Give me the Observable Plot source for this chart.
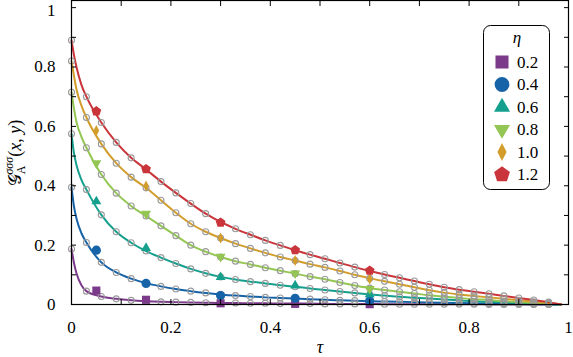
<!DOCTYPE html>
<html><head><meta charset="utf-8">
<script src="https://cdn.jsdelivr.net/npm/d3@7"></script>
<script src="https://cdn.jsdelivr.net/npm/@observablehq/plot@0.6"></script>
<style>body{margin:0;background:#fff} #chart{width:573px;height:357px}</style>
</head><body><div id="chart"></div>
<script>
// ---- data ----
const etaLabels = ["0.2", "0.4", "0.6", "0.8", "1.0", "1.2"];
const colors = ["#7b3b8a", "#1763a8", "#15a08e", "#93c652", "#d29d2b", "#c9353a"];
const xTicksMajor = [0, 0.2, 0.4, 0.6, 0.8, 1];
const xTicksMinor = [0, 0.1, 0.2, 0.3, 0.4, 0.5, 0.6, 0.7, 0.8, 0.9, 1];
const yTicksMajor = [0, 0.2, 0.4, 0.6, 0.8];
const yTickTop = [1];
const yTicksMinor = [0, 0.1, 0.2, 0.3, 0.4, 0.5, 0.6, 0.7, 0.8, 0.9, 1];

// open grey circles (theory samples)
const tauGrid = [0, 0.03, 0.06, 0.09, 0.12, 0.15, 0.18, 0.21, 0.24, 0.27, 0.30, 0.33, 0.36, 0.39, 0.42, 0.45, 0.48, 0.51, 0.54, 0.57, 0.60, 0.63, 0.66, 0.69, 0.72, 0.75, 0.78, 0.81, 0.84, 0.87, 0.90, 0.93, 0.96];
const gEta02 = [0.187, 0.045, 0.027, 0.019, 0.014, 0.011, 0.009, 0.008, 0.007, 0.006, 0.005, 0.005, 0.004, 0.004, 0.003, 0.003, 0.003, 0.002, 0.002, 0.002, 0.002, 0.001, 0.001, 0.001, 0.001, 0.001, 0.001, 0.001, 0.000, 0.000, 0.000, 0.000, 0.000];
const gEta04 = [0.395, 0.209, 0.142, 0.108, 0.087, 0.072, 0.061, 0.052, 0.045, 0.039, 0.034, 0.030, 0.027, 0.024, 0.022, 0.020, 0.018, 0.016, 0.014, 0.013, 0.011, 0.010, 0.009, 0.008, 0.007, 0.006, 0.005, 0.004, 0.003, 0.003, 0.002, 0.001, 0.001];
const gEta06 = [0.575, 0.387, 0.302, 0.245, 0.208, 0.180, 0.158, 0.138, 0.120, 0.105, 0.093, 0.084, 0.077, 0.071, 0.065, 0.060, 0.054, 0.049, 0.044, 0.039, 0.034, 0.030, 0.026, 0.023, 0.020, 0.017, 0.014, 0.011, 0.009, 0.007, 0.005, 0.003, 0.002];
const gEta08 = [0.715, 0.528, 0.438, 0.375, 0.332, 0.298, 0.265, 0.232, 0.200, 0.178, 0.160, 0.146, 0.135, 0.124, 0.114, 0.104, 0.094, 0.085, 0.074, 0.064, 0.055, 0.049, 0.043, 0.037, 0.031, 0.026, 0.022, 0.018, 0.015, 0.011, 0.008, 0.005, 0.003];
const gEta10 = [0.820, 0.630, 0.541, 0.476, 0.429, 0.393, 0.351, 0.309, 0.272, 0.245, 0.224, 0.205, 0.189, 0.174, 0.160, 0.148, 0.136, 0.125, 0.113, 0.100, 0.088, 0.078, 0.068, 0.058, 0.048, 0.040, 0.034, 0.029, 0.024, 0.019, 0.014, 0.009, 0.005];
const gEta12 = [0.890, 0.700, 0.613, 0.546, 0.494, 0.455, 0.414, 0.376, 0.340, 0.306, 0.278, 0.255, 0.235, 0.216, 0.199, 0.183, 0.168, 0.154, 0.140, 0.126, 0.113, 0.101, 0.090, 0.079, 0.068, 0.058, 0.050, 0.043, 0.036, 0.029, 0.022, 0.015, 0.008];

// extra points of the continuous curves near tau = 0, and the end point
const tauEarly = [0.005, 0.01, 0.02];
const early02 = [0.140, 0.105, 0.065];
const early04 = [0.330, 0.290, 0.240];
const early06 = [0.510, 0.470, 0.420];
const early08 = [0.660, 0.615, 0.565];
const early10 = [0.770, 0.725, 0.670];
const early12 = [0.840, 0.800, 0.740];
const tauEnd = 0.985;
const gEnd = 0;

// coloured simulation markers
const tauMarkers = [0.05, 0.15, 0.30, 0.45, 0.60];
const m02 = [0.047, 0.016, 0.004, 0.002, 0.001];
const m04 = [0.183, 0.071, 0.030, 0.021, 0.013];
const m06 = [0.347, 0.190, 0.092, 0.064, 0.034];
const m08 = [0.476, 0.306, 0.161, 0.105, 0.053];
const m10 = [0.586, 0.399, 0.224, 0.148, 0.086];
const m12 = [0.651, 0.456, 0.276, 0.183, 0.114];

// ---- symbols ----
const R = s => Math.sqrt(s / Math.PI);
const symSquare = {draw(c, s){ const h = R(s) * 0.88; c.rect(-h, -h, 2*h, 2*h); }};
const symCircle = {draw(c, s){ const r = R(s); c.moveTo(r, 0); c.arc(0, 0, r, 0, 2*Math.PI); }};
const symTriUp = {draw(c, s){ const r = R(s) * 1.25; c.moveTo(0, -r); c.lineTo(r*0.866, r*0.5); c.lineTo(-r*0.866, r*0.5); c.closePath(); }};
const symTriDown = {draw(c, s){ const r = R(s) * 1.25; c.moveTo(0, r); c.lineTo(r*0.866, -r*0.5); c.lineTo(-r*0.866, -r*0.5); c.closePath(); }};
const symDiamond = {draw(c, s){ const r = R(s); c.moveTo(0, -r*1.2); c.lineTo(r*0.62, 0); c.lineTo(0, r*1.2); c.lineTo(-r*0.62, 0); c.closePath(); }};
const symPentagon = {draw(c, s){ const r = R(s) * 1.12; for (let i = 0; i < 5; i++){ const a = -Math.PI/2 + i*2*Math.PI/5; const px = r*Math.cos(a), py = r*Math.sin(a); if (i) c.lineTo(px, py); else c.moveTo(px, py);} c.closePath(); }};
const symbols = [symSquare, symCircle, symTriUp, symTriDown, symDiamond, symPentagon];

const grids = [gEta02, gEta04, gEta06, gEta08, gEta10, gEta12];
const earlies = [early02, early04, early06, early08, early10, early12];
const markers = [m02, m04, m06, m08, m10, m12];

const lineMarks = [], circleData = [], markerMarks = [];
grids.forEach((g, i) => {
  const pts = [{tau: tauGrid[0], g: g[0]}];
  tauEarly.forEach((t, j) => pts.push({tau: t, g: earlies[i][j]}));
  tauGrid.forEach((t, j) => { if (j > 0) pts.push({tau: t, g: g[j]}); });
  pts.push({tau: tauEnd, g: gEnd});
  lineMarks.push(Plot.line(pts, {x: "tau", y: "g", stroke: colors[i], strokeWidth: 2, curve: "monotone-x"}));
  tauGrid.forEach((t, j) => circleData.push({tau: t, g: g[j]}));
  const md = tauMarkers.map((t, j) => ({tau: t, g: markers[i][j]}));
  markerMarks.push(Plot.dot(md, {x: "tau", y: "g", fill: colors[i], stroke: "none", symbol: symbols[i], r: 4.6}));
});

const FONT = "'Liberation Serif', 'DejaVu Serif', serif";
const noText = () => "";
const chart = Plot.plot({
  width: 573, height: 357,
  marginLeft: 71, marginRight: 5, marginTop: 0, marginBottom: 53,
  style: {fontFamily: FONT, fontSize: "17px", color: "#000", background: "#fff", overflow: "visible"},
  x: {domain: [0, 1]},
  y: {domain: [0, 1.024]},
  marks: [
    ...lineMarks,
    Plot.dot(circleData, {x: "tau", y: "g", r: 3, stroke: "#9a9a9a", strokeWidth: 1.1, fill: "none"}),
    ...markerMarks,
    Plot.axisX({anchor: "bottom", ticks: xTicksMinor, tickSize: 5, dy: -5, tickFormat: noText, label: null}),
    Plot.axisX({anchor: "top", ticks: xTicksMinor, tickSize: 5, dy: 5, tickFormat: noText, label: null}),
    Plot.axisY({anchor: "left", ticks: yTicksMinor, tickSize: 5, dx: 5, tickFormat: noText, label: null}),
    Plot.axisY({anchor: "right", ticks: yTicksMinor, tickSize: 5, dx: -5, tickFormat: noText, label: null}),
    Plot.axisX({anchor: "bottom", ticks: xTicksMajor, tickSize: 0, tickPadding: 16, tickFormat: d => String(d), label: null, fontFamily: FONT}),
    Plot.axisY({anchor: "left", ticks: yTicksMajor, tickSize: 0, tickPadding: 16, tickFormat: d => String(d), label: null, fontFamily: FONT}),
    Plot.axisY({anchor: "left", ticks: yTickTop, tickSize: 0, tickPadding: 16, dy: 3, tickFormat: d => String(d), label: null, fontFamily: FONT}),
    Plot.text(["τ"], {frameAnchor: "bottom", dy: 48, fontStyle: "italic", fontSize: 18, fontFamily: FONT}),
    Plot.frame({stroke: "#000", strokeWidth: 1.2})
  ]
});
document.getElementById("chart").appendChild(chart);

// y-axis title with sub/superscripts
const svg = d3.select(chart);
const yl = svg.append("text")
  .attr("transform", "translate(21,153) rotate(-90)")
  .attr("text-anchor", "middle")
  .attr("font-family", FONT)
  .attr("font-size", 18).attr("fill", "#000");
yl.append("tspan").attr("font-family", "'DejaVu Sans', serif").attr("font-size", 17).text("𝒢");
yl.append("tspan").attr("font-size", 12).attr("dy", 4).text("A");
yl.append("tspan").attr("font-size", 12).attr("font-style", "italic").attr("dx", -9).attr("dy", -12).text("σσσ");
yl.append("tspan").attr("dy", 8).text("(");
yl.append("tspan").attr("font-style", "italic").text("x");
yl.append("tspan").text(", ");
yl.append("tspan").attr("font-style", "italic").text("y");
yl.append("tspan").text(")");

// legend
const lg = svg.append("g").attr("font-family", FONT).attr("font-size", 17).attr("text-anchor", "start");
lg.append("rect").attr("x", 483.5).attr("y", 25.5).attr("width", 66).attr("height", 164)
  .attr("rx", 7).attr("fill", "#fff").attr("stroke", "#000").attr("stroke-width", 1);
lg.append("text").attr("x", 517).attr("y", 37).attr("text-anchor", "middle").attr("dominant-baseline", "central")
  .attr("font-style", "italic").text("η");
etaLabels.forEach((lab, i) => {
  const yy = 62 + i * 22.5;
  const p = d3.path(); symbols[i].draw(p, Math.PI * 7.4 * 7.4);
  lg.append("path").attr("d", p.toString()).attr("transform", `translate(502,${yy})`).attr("fill", colors[i]);
  lg.append("text").attr("x", 517).attr("y", yy).attr("text-anchor", "start").attr("dominant-baseline", "central").text(lab);
});
</script>
</body></html>
